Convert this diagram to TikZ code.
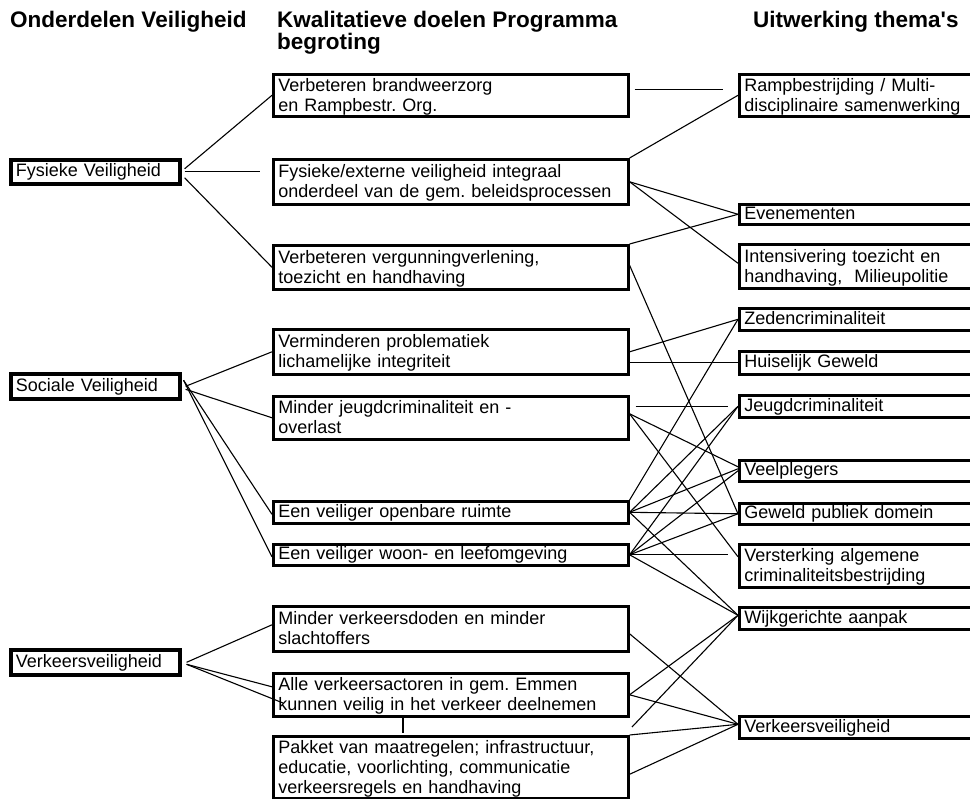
\documentclass[tikz,border=0pt]{standalone}
\usepackage{fontspec}
\setmainfont{Liberation Sans}
\frenchspacing
\begin{document}
\begin{tikzpicture}[x=1pt,y=-1pt,
  bfont/.style={font=\fontsize{18}{20}\selectfont},
  anybox/.style={draw, bfont, inner xsep=5pt, inner ysep=0pt, anchor=north west, align=left,
    execute at begin node={\rule{0pt}{14.5pt}}, execute at end node={\rule[-4.5pt]{0pt}{4.5pt}}},
  lower/.style={execute at begin node={\rule{0pt}{16.5pt}}, execute at end node={\rule[-2.5pt]{0pt}{2.5pt}}},
  lbox/.style={anybox, line width=3.6pt, minimum width=169pt, text width=159pt},
  mbox/.style={anybox, line width=2.6pt, minimum width=355pt, text width=345pt},
  rbox/.style={anybox, line width=2.6pt, minimum width=240pt, text width=230pt},
  hdr/.style={font=\fontsize{22.5}{20.5}\selectfont\bfseries, inner sep=0pt, anchor=north west, align=left},
  link/.style={line width=1.1pt}
]
\useasboundingbox (0,0) rectangle (970,799);

% headers
\node[hdr] (h1) at (10,11) {\rule{0pt}{16pt}Onderdelen Veiligheid};
\node[hdr] (h2) at (277,11) {\rule{0pt}{16pt}Kwalitatieve doelen Programma\\begroting};
\node[hdr] (h3) at (753,11) {\rule{0pt}{16pt}Uitwerking thema\textquotesingle s};

% left column
\node[lbox, minimum height=24pt] (fv) at (9,158) {Fysieke Veiligheid};
\node[lbox, minimum height=25pt] (sv) at (9,372) {Sociale Veiligheid};
\node[lbox, minimum height=25pt] (vv) at (9,648) {Verkeersveiligheid};

% middle column
\node[mbox, lower, minimum height=42pt] (m1) at (272,73) {Verbeteren brandweerzorg\\en Rampbestr. Org.};
\node[mbox, lower, minimum height=45pt] (m2) at (272,158) {Fysieke/externe veiligheid integraal\\onderdeel van de gem. beleidsprocessen};
\node[mbox, lower, minimum height=44pt] (m3) at (272,244) {Verbeteren vergunningverlening,\\toezicht en handhaving};
\node[mbox, lower, minimum height=45pt] (m4) at (272,328) {Verminderen problematiek\\lichamelijke integriteit};
\node[mbox, lower, minimum height=43pt] (m5) at (272,395) {Minder jeugdcriminaliteit en -\\overlast};
\node[mbox, minimum height=22pt] (m6) at (272,500) {Een veiliger openbare ruimte};
\node[mbox, minimum height=21pt] (m7) at (272,543) {Een veiliger woon- en leefomgeving};
\node[mbox, lower, minimum height=45pt] (m8) at (272,605) {Minder verkeersdoden en minder\\slachtoffers};
\node[mbox, lower, minimum height=43pt] (m9) at (272,672) {Alle verkeersactoren in gem. Emmen\\kunnen veilig in het verkeer deelnemen};
\node[mbox, lower, minimum height=62pt] (m10) at (272,735) {Pakket van maatregelen; infrastructuur,\\educatie, voorlichting, communicatie\\verkeersregels en handhaving};

% right column
\node[rbox, lower, minimum height=42pt] (r1) at (738,73) {Rampbestrijding / Multi-\\disciplinaire samenwerking};
\node[rbox, minimum height=20pt] (r2) at (738,203) {Evenementen};
\node[rbox, lower, minimum height=44pt] (r3) at (738,243) {Intensivering toezicht en\\handhaving,\ \ Milieupolitie};
\node[rbox, minimum height=22pt] (r4) at (738,307) {Zedencriminaliteit};
\node[rbox, minimum height=23pt] (r5) at (738,350) {Huiselijk Geweld};
\node[rbox, minimum height=22pt] (r6) at (738,394) {Jeugdcriminaliteit};
\node[rbox, minimum height=21pt] (r7) at (738,459) {Veelplegers};
\node[rbox, minimum height=21pt] (r8) at (738,502) {Geweld publiek domein};
\node[rbox, lower, minimum height=43pt] (r9) at (738,543) {Versterking algemene\\criminaliteitsbestrijding};
\node[rbox, minimum height=22pt] (r10) at (738,606) {Wijkgerichte aanpak};
\node[rbox, minimum height=22pt] (r11) at (738,715) {Verkeersveiligheid};

\coordinate (vvend) at (283,703);
\coordinate (tickx) at (403,0);
\coordinate (pk) at (632,727);

% left -> middle
\draw[link] ([xshift=3pt,yshift=3pt]fv.east) -- (m1.west);
\draw[link, shorten >=12pt] ([xshift=3pt]fv.east) -- (fv.east -| m2.west);
\draw[link] ([xshift=3pt,yshift=-6pt]fv.east) -- (m3.west);
\draw[link] ([xshift=4pt]sv.east) -- (m4.west);
\draw[link] ([xshift=4pt,yshift=-3pt]sv.east) -- (m5.west);
\draw[link] ([xshift=2pt,yshift=6pt]sv.east) -- ([yshift=-2pt]m6.west);
\draw[link] ([xshift=2pt,yshift=6pt]sv.east) -- ([yshift=-2pt]m7.west);
\draw[link] ([xshift=5pt]vv.east) -- ([yshift=4pt]m8.west);
\draw[link] ([xshift=5pt,yshift=-2pt]vv.east) -- ([yshift=8pt]m9.west);
\draw[link] ([xshift=5pt,yshift=-2pt]vv.east) -- (vvend);
\draw[link] (m9.south -| tickx) -- ++(0,15);

% middle -> right
\draw[link, shorten <=5pt, shorten >=15pt] ([yshift=6pt]m1.east) -- ([yshift=6pt]r1.west);
\draw[link] (m2.north east) -- (r1.west);
\draw[link] (m2.east) -- (r2.west);
\draw[link] (m2.east) -- ([yshift=3pt]r3.west);
\draw[link] (m3.north east) -- (r2.west);
\draw[link] ([yshift=2pt]m3.east) -- (r8.west);
\draw[link] (m4.east) -- (r4.west);
\draw[link] (r5.west -| m4.east) -- (r5.west);
\draw[link, shorten <=6pt, shorten >=10pt] (r6.west -| m5.east) -- (r6.west);
\draw[link] ([yshift=4pt]m5.east) -- ([yshift=4pt]r7.west);
\draw[link] ([yshift=4pt]m5.east) -- ([yshift=9pt]r9.west);
\draw[link] (m6.north east) -- (r4.west);
\draw[link] (m6.east) -- (r6.west);
\draw[link] (m6.east) -- ([yshift=2pt]r7.west);
\draw[link] (m6.east) -- (r8.west);
\draw[link] (m6.east) -- ([yshift=3pt]r10.west);
\draw[link] (m7.east) -- (r6.west);
\draw[link] (m7.east) -- (r7.west);
\draw[link] (m7.east) -- (r8.west);
\draw[link, shorten >=10pt] (m7.east) -- (m7.east -| r9.west);
\draw[link] (m7.east) -- ([yshift=3pt]r10.west);
\draw[link] ([yshift=-5pt]m8.east) -- ([yshift=3pt]r11.west);
\draw[link] (m9.east) -- ([yshift=3pt]r10.west);
\draw[link] (m9.east) -- ([yshift=3pt]r11.west);
\draw[link] (pk) -- ([yshift=3pt]r10.west);
\draw[link] (m10.north east) -- ([yshift=3pt]r11.west);
\draw[link] ([yshift=-7pt]m10.east) -- ([yshift=3pt]r11.west);
\end{tikzpicture}
\end{document}
